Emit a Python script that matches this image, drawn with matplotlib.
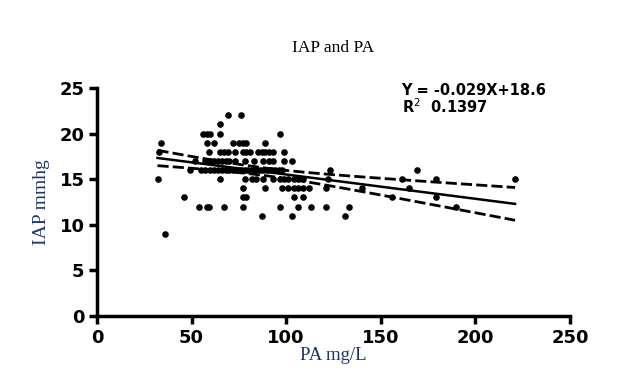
import numpy as np
import matplotlib.pyplot as plt

# PA (mg/L) values grouped by IAP level (mmhg)
pa_22 = [69, 76]
pa_21 = [65]
pa_20 = [56, 58, 60, 65, 97]
pa_19 = [34, 58, 62, 72, 75, 77, 79, 89]
pa_18 = [33, 59, 65, 67, 69, 73, 77, 79, 81, 85, 87, 89, 91, 93, 99]
pa_17 = [52, 57, 60, 62, 64, 66, 68, 70, 73, 78, 83, 88, 91, 93, 99, 103]
pa_16 = [49, 55, 57, 60, 62, 64, 66, 68, 70, 72, 74, 76, 78, 80, 82, 84, 86, 88,
         90, 92, 94, 96, 98, 123, 169]
pa_15 = [32, 65, 78, 82, 84, 88, 93, 97, 99, 101, 104, 106, 109, 122, 161, 179, 221]
pa_14 = [77, 89, 98, 101, 104, 106, 109, 112, 121, 140, 165]
pa_13 = [46, 77, 79, 104, 109, 156, 179]
pa_12 = [54, 58, 59, 67, 77, 97, 106, 113, 121, 133, 190]
pa_11 = [87, 103, 131]
pa_9 = [36]

groups = {22: pa_22, 21: pa_21, 20: pa_20, 19: pa_19, 18: pa_18, 17: pa_17,
          16: pa_16, 15: pa_15, 14: pa_14, 13: pa_13, 12: pa_12, 11: pa_11, 9: pa_9}

x = np.array([v for k in groups for v in groups[k]], dtype=float)
y = np.array([k for k in groups for v in groups[k]], dtype=float)

# linear fit with 95% confidence band
slope, intercept = np.polyfit(x, y, 1)
n = len(x)
resid = y - (slope * x + intercept)
s = np.sqrt(np.sum(resid ** 2) / (n - 2))
sxx = np.sum((x - x.mean()) ** 2)
xf = np.linspace(x.min(), x.max(), 100)
yf = slope * xf + intercept
half = 1.98 * s * np.sqrt(1 / n + (xf - x.mean()) ** 2 / sxx)

fig = plt.figure(figsize=(6.44, 3.74), dpi=100)
ax = fig.add_axes([0.1506, 0.155, 0.7344, 0.6097])

ax.scatter(x, y, s=14, color='black', zorder=3)
ax.plot(xf, yf, color='black', lw=1.8)
ax.plot(xf, yf + half, color='black', lw=2.0, ls=(0, (4, 1.5)))
ax.plot(xf, yf - half, color='black', lw=2.0, ls=(0, (4, 1.5)))

ax.set_xlim(0, 250)
ax.set_ylim(0, 25)
ax.set_xticks([0, 50, 100, 150, 200, 250])
ax.set_yticks([0, 5, 10, 15, 20, 25])

for side in ['top', 'right']:
    ax.spines[side].set_visible(False)
for side in ['left', 'bottom']:
    ax.spines[side].set_linewidth(2.5)
ax.tick_params(width=2.5, length=6, pad=3, direction='out')
for lab in ax.get_xticklabels() + ax.get_yticklabels():
    lab.set_fontfamily('DejaVu Sans')
    lab.set_fontweight('heavy')
    lab.set_fontsize(13)

ax.set_title('IAP and PA', family='Liberation Serif', fontsize=12.5, pad=26)
ax.set_xlabel('PA mg/L', family='Liberation Serif', fontsize=13.5, color='#1f3566', labelpad=0)
ax.set_ylabel('IAP mmhg', family='Liberation Serif', fontsize=14, color='#1f3566', labelpad=7)

ax.text(161, 24.2, 'Y = -0.029X+18.6', family='DejaVu Sans', fontweight='bold', fontsize=10.5)
ax.text(161, 22.3, 'R$^2$  0.1397', family='DejaVu Sans', fontweight='bold', fontsize=10.5)

fig.savefig('out.png', dpi=100)
